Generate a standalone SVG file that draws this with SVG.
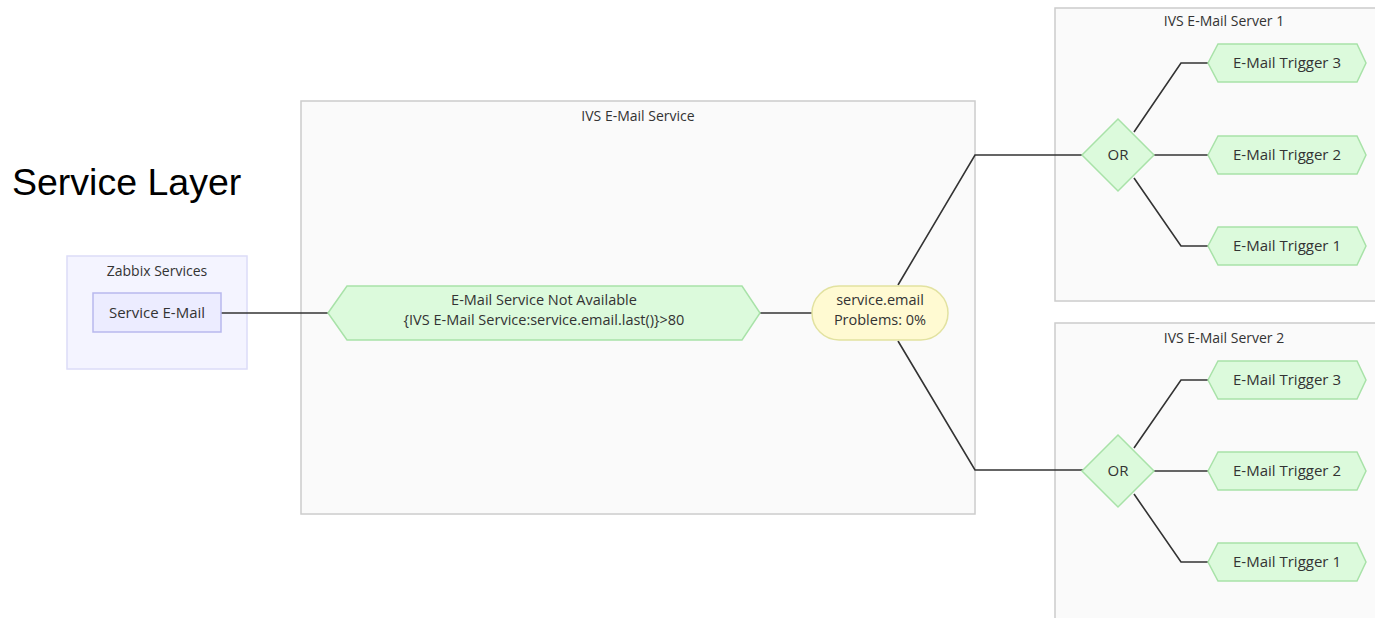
<svg xmlns="http://www.w3.org/2000/svg" width="1375" height="618" viewBox="0 0 1375 618">
<style>
text{font-family:"Open Sans","Liberation Sans","DejaVu Sans",sans-serif;font-size:15px;fill:#333;text-anchor:middle}
.t{font-size:14px}
.two{font-size:14.5px}
.cl{fill:#fafafa;stroke:#ccc;stroke-width:1.5}
.zc{fill:#f4f4ff;stroke:#dcdcf8;stroke-width:1.5}
.svc{fill:#ececff;stroke:#b8b8ee;stroke-width:1.5}
.hex{fill:#dcfadc;stroke:#a8e2a8;stroke-width:1.5}
.dia{fill:#dcfadc;stroke:#a8e2a8;stroke-width:1.5}
.st{fill:#fffad2;stroke:#e2e2a0;stroke-width:1.5}
.e{fill:none;stroke:#333;stroke-width:1.6}
.big{font-family:"Liberation Sans",Arial,sans-serif;font-size:37.5px;fill:#000;text-anchor:start}
</style>
<rect width="1375" height="618" fill="#fff"/>
<text class="big" x="12" y="195">Service Layer</text>
<g id="cluster-zabbix">
<rect class="zc" x="67" y="256" width="180" height="113"/>
<text class="t" x="157" y="276">Zabbix Services</text>
</g>
<g id="cluster-service">
<rect class="cl" x="301" y="101" width="674" height="413"/>
<text class="t" x="638" y="121">IVS E-Mail Service</text>
</g>
<g id="cluster-server1">
<rect class="cl" x="1055" y="8" width="330" height="293"/>
<text class="t" x="1224" y="26">IVS E-Mail Server 1</text>
</g>
<g id="cluster-server2">
<rect class="cl" x="1055" y="323" width="330" height="310"/>
<text class="t" x="1224" y="343">IVS E-Mail Server 2</text>
</g>
<g id="connectors">
<path class="e" d="M221,313H328"/>
<path class="e" d="M760,313H812"/>
<path class="e" d="M898,285L975,155H1083"/>
<path class="e" d="M898,341L975,470H1083"/>
<path class="e" d="M1134,132L1181,63H1208"/>
<path class="e" d="M1154,155H1208"/>
<path class="e" d="M1134,178L1181,246H1208"/>
<path class="e" d="M1134,448L1181,380H1208"/>
<path class="e" d="M1154,471H1208"/>
<path class="e" d="M1134,494L1181,562H1208"/>
</g>
<g id="service-email">
<rect class="svc" x="93" y="293" width="128" height="39"/>
<text x="157" y="318">Service E-Mail</text>
</g>
<g id="trigger-main">
<polygon class="hex" points="328,313 347,286 742,286 760,313 742,340 347,340"/>
<text class="two" x="544" y="305">E-Mail Service Not Available</text>
<text class="two" x="544" y="325">{IVS E-Mail Service:service.email.last()}&gt;80</text>
</g>
<g id="service-node">
<rect class="st" x="812" y="286" width="136" height="54" rx="27"/>
<text class="two" x="880" y="305">service.email</text>
<text class="two" x="880" y="325">Problems: 0%</text>
</g>
<g id="or-1">
<polygon class="dia" points="1118,119 1154,155 1118,191 1082,155"/>
<text x="1118" y="160">OR</text>
</g>
<g id="s1-t3">
<polygon class="hex" points="1208,63 1218,44 1357,44 1366,63 1357,82 1218,82"/>
<text x="1287" y="68">E-Mail Trigger 3</text>
</g>
<g id="s1-t2">
<polygon class="hex" points="1208,155 1218,136 1357,136 1366,155 1357,174 1218,174"/>
<text x="1287" y="160">E-Mail Trigger 2</text>
</g>
<g id="s1-t1">
<polygon class="hex" points="1208,246 1218,227 1357,227 1366,246 1357,265 1218,265"/>
<text x="1287" y="251">E-Mail Trigger 1</text>
</g>
<g id="or-2">
<polygon class="dia" points="1118,435 1154,471 1118,507 1082,471"/>
<text x="1118" y="476">OR</text>
</g>
<g id="s2-t3">
<polygon class="hex" points="1208,380 1218,361 1357,361 1366,380 1357,399 1218,399"/>
<text x="1287" y="385">E-Mail Trigger 3</text>
</g>
<g id="s2-t2">
<polygon class="hex" points="1208,471 1218,452 1357,452 1366,471 1357,490 1218,490"/>
<text x="1287" y="476">E-Mail Trigger 2</text>
</g>
<g id="s2-t1">
<polygon class="hex" points="1208,562 1218,543 1357,543 1366,562 1357,581 1218,581"/>
<text x="1287" y="567">E-Mail Trigger 1</text>
</g>
</svg>
